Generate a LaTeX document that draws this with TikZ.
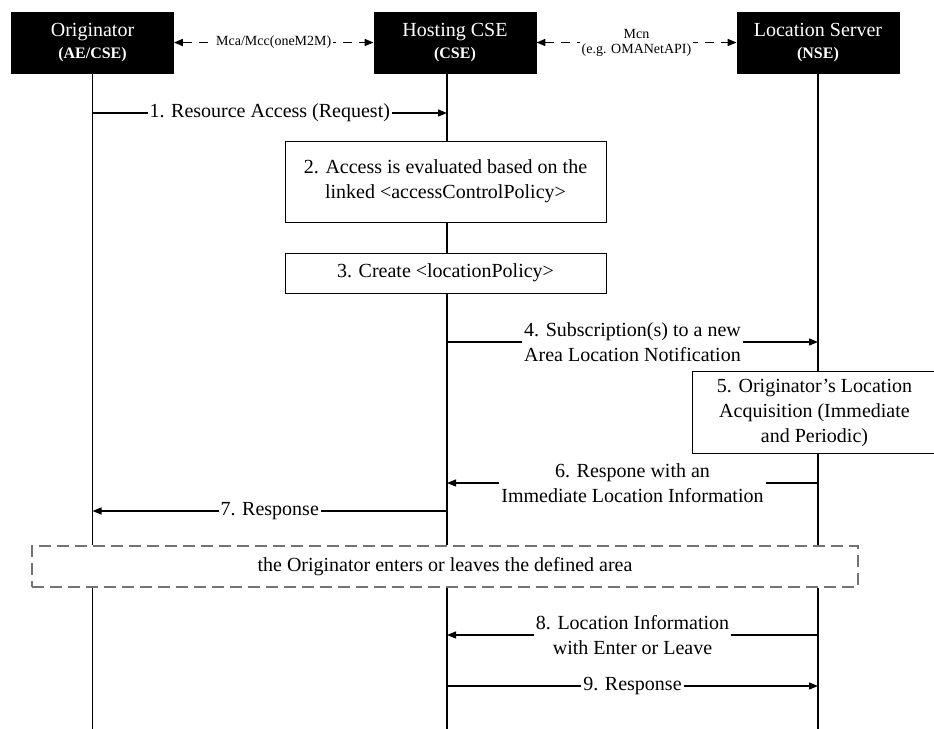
\documentclass[tikz,border=0pt]{standalone}
\usepackage{fontspec}
\setmainfont{Liberation Serif}
\usetikzlibrary{arrows.meta}

\tikzset{
  entity/.style={draw,fill=black,text=white,minimum width=81pt,minimum height=30.5pt,align=center,font=\fontsize{10}{12}\selectfont},
  stepbox/.style={draw,fill=white,line width=0.5pt,align=center,font=\fontsize{10}{12.5}\selectfont},
  msg/.style={line width=0.6pt,-{Triangle[length=4.5pt,width=3.5pt]}},
  ref/.style={densely dashed,line width=0.8pt,dash pattern=on 4.5pt off 3.5pt,{Triangle[length=4.5pt,width=3.5pt]}-{Triangle[length=4.5pt,width=3.5pt]}},
  lbl/.style={fill=white,inner sep=1pt,align=center,font=\fontsize{10}{12.5}\selectfont},
  small/.style={fill=white,inner sep=1pt,align=center,font=\fontsize{7}{7.5}\selectfont},
  life/.style={line width=0.6pt}
}

\begin{document}
\begin{tikzpicture}[x=0.5pt,y=-0.5pt]
    \useasboundingbox (0,0) rectangle (934,729);

    % participants
    \node[entity] (orig) at (92.5,42.5) {Originator\\[-1pt]{\fontsize{8}{9}\selectfont\bfseries (AE/CSE)}};
    \node[entity] (host) at (455,42.5) {Hosting CSE\\[-1pt]{\fontsize{8}{9}\selectfont\bfseries (CSE)}};
    \node[entity] (loc) at (818,42.5) {Location Server\\[-1pt]{\fontsize{8}{9}\selectfont\bfseries (NSE)}};

    % lifeline anchors
    \coordinate (ol) at (92.5,73);
    \coordinate (hl) at (447,73);
    \coordinate (ll) at (818,73);
    \coordinate (bottom) at (0,729);

    % reference points
    \draw[ref] (orig.east) -- node[small] {Mca/Mcc(oneM2M)} (host.west);
    \draw[ref] (host.east) -- node[small] {Mcn\\(e.g. OMANetAPI)} (loc.west);

    % area box
    \node[draw=black!55,dashed,line width=0.8pt,dash pattern=on 6pt off 3pt,minimum width=413pt,minimum height=20.5pt,
          font=\fontsize{10}{12}\selectfont] (area) at (445,566.5) {the Originator enters or leaves the defined area};

    % lifelines
    \foreach \l in {ol,hl,ll} {
      \draw[life] (\l) -- (\l |- area.north);
      \draw[life] (\l |- area.south) -- (\l |- bottom);
    }

    % steps
    \draw[msg] (ol |- 0,113) -- node[lbl] {1. Resource Access (Request)} (hl |- 0,113);
    \node[stepbox,minimum width=160.5pt,minimum height=40.5pt] (eval) at (445.5,181.5) {2. Access is evaluated based on the\\linked <accessControlPolicy>};
    \node[stepbox,minimum width=160.5pt,minimum height=20pt] (create) at (445.5,273) {3. Create <locationPolicy>};
    \draw[msg] (hl |- 0,342) -- node[lbl] {4. Subscription(s) to a new\\Area Location Notification} (ll |- 0,342);
    \node[stepbox,minimum width=122pt,minimum height=41pt,anchor=north west] (acq) at (692,371) {5. Originator's Location\\Acquisition (Immediate\\and Periodic)};
    \draw[msg] (ll |- 0,483) -- node[lbl] {6. Respone with an\\Immediate Location Information} (hl |- 0,483);
    \draw[msg] (hl |- 0,511) -- node[lbl] {7. Response} (ol |- 0,511);
    \draw[msg] (ll |- 0,635) -- node[lbl] {8. Location Information\\with Enter or Leave} (hl |- 0,635);
    \draw[msg] (hl |- 0,686) -- node[lbl] {9. Response} (ll |- 0,686);
\end{tikzpicture}
\end{document}
